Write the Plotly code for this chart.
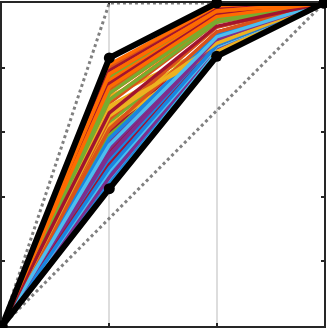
import plotly.graph_objects as go

# x positions of the four stages
stages = [0, 1 / 3, 2 / 3, 1]

# colour cycle used for the family of curves
PALETTE = ["#1A85E0", "#D95319", "#EDB120", "#7E2F8E",
           "#77AC30", "#4DBEEE", "#A2142F", "#FF6A00"]

# value of each curve at x = 1/3 and x = 2/3 (start 0, end 1)
at_third = [
    0.47, 0.80, 0.66, 0.52, 0.77, 0.45, 0.60, 0.81,
    0.55, 0.73, 0.71, 0.49, 0.63, 0.58, 0.79, 0.76,
    0.44, 0.69, 0.62, 0.57, 0.74, 0.50, 0.54, 0.72,
    0.51, 0.78, 0.68, 0.46, 0.59, 0.43, 0.75, 0.70,
    0.58, 0.64, 0.67, 0.53, 0.70, 0.48, 0.50, 0.78,
    0.49, 0.61, 0.65, 0.55, 0.72, 0.56, 0.66, 0.74,
]
at_two_thirds = [
    0.860, 0.985, 0.880, 0.880, 0.970, 0.855, 0.910, 0.990,
    0.890, 0.955, 0.870, 0.870, 0.900, 0.900, 0.980, 0.965,
    0.850, 0.940, 0.855, 0.895, 0.960, 0.875, 0.885, 0.950,
    0.880, 0.975, 0.865, 0.860, 0.880, 0.848, 0.962, 0.945,
    0.900, 0.925, 0.850, 0.885, 0.940, 0.865, 0.870, 0.975,
    0.870, 0.910, 0.875, 0.890, 0.952, 0.895, 0.928, 0.958,
]

# envelopes
upper = [0, 0.83, 1.0, 1]
lower = [0, 0.425, 0.835, 1]

# reference bounds (dotted)
diag_x, diag_y = [0, 1], [0, 1]
bound_x, bound_y = [0, 1 / 3, 1], [0, 1, 1]

fig = go.Figure()

for bx, by in [(diag_x, diag_y), (bound_x, bound_y)]:
    fig.add_trace(go.Scatter(
        x=bx, y=by, mode="lines",
        line={"color": "#808080", "width": 3, "dash": "dot"},
        hoverinfo="skip",
    ))

for i, (a, b) in enumerate(zip(at_third, at_two_thirds)):
    fig.add_trace(go.Scatter(
        x=stages, y=[0, a, b, 1], mode="lines",
        line={"color": PALETTE[i % len(PALETTE)], "width": 3.5},
    ))

for env in (upper, lower):
    fig.add_trace(go.Scatter(
        x=stages, y=env, mode="lines+markers",
        line={"color": "black", "width": 6},
        marker={"color": "black", "size": 11},
        cliponaxis=False,
    ))

axis_common = dict(
    showline=True, linecolor="#262626", linewidth=1.5, mirror="ticks",
    ticks="inside", ticklen=3, tickcolor="#262626", tickwidth=1.5,
    showticklabels=False, zeroline=False, layer="below traces",
    range=[0, 1],
)

fig.update_xaxes(**axis_common, tickvals=[1 / 3, 2 / 3],
                 showgrid=True, gridcolor="#DDDDDD", gridwidth=2)
fig.update_yaxes(**axis_common, tickvals=[0.2, 0.4, 0.6, 0.8], showgrid=False)

fig.update_layout(
    width=327, height=328,
    margin={"l": 2, "r": 3, "t": 3, "b": 2},
    paper_bgcolor="white", plot_bgcolor="white",
    showlegend=False,
)

fig.write_html("out.html", config={"displayModeBar": False},
               post_script="document.body.style.margin='0';")
